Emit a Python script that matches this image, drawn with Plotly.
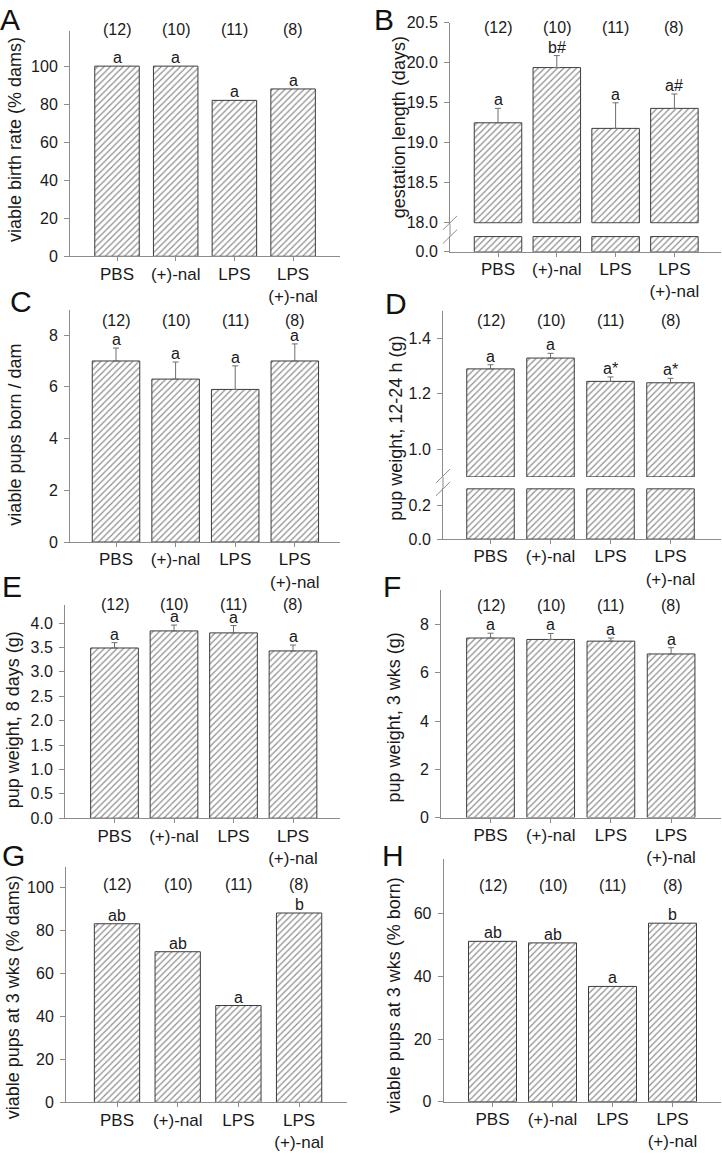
import plotly.graph_objects as go

# ---------------- data ----------------
categories = ["PBS", "(+)-nal", "LPS", "LPS<br>(+)-nal"]
n_labels = ["(12)", "(10)", "(11)", "(8)"]

a_vals = [100, 100, 82, 88]
a_sig = ["a", "a", "a", "a"]

b_vals = [19.25, 19.94, 19.18, 19.43]
b_err = [0.18, 0.15, 0.32, 0.18]
b_sig = ["a", "b#", "a", "a#"]

c_vals = [7.0, 6.3, 5.9, 7.0]
c_err = [0.5, 0.66, 0.91, 0.66]
c_sig = ["a", "a", "a", "a"]

d_vals = [1.289, 1.328, 1.244, 1.239]
d_err = [0.015, 0.017, 0.016, 0.016]
d_sig = ["a", "a", "a*", "a*"]

e_vals = [3.49, 3.84, 3.80, 3.43]
e_err = [0.11, 0.12, 0.15, 0.12]
e_sig = ["a", "a", "a", "a"]

f_vals = [7.44, 7.38, 7.31, 6.78]
f_err = [0.20, 0.25, 0.13, 0.26]
f_sig = ["a", "a", "a", "a"]

g_vals = [83, 70, 45, 88]
g_sig = ["ab", "ab", "a", "b"]

h_vals = [51.2, 50.7, 36.8, 57.0]
h_sig = ["ab", "ab", "a", "b"]

b_ticks = [18.0, 18.5, 19.0, 19.5, 20.0, 20.5]
b_low_ticks = [0.0]
d_ticks = [1.0, 1.2, 1.4]
d_low_ticks = [0.0, 0.2]
B_BREAK = 18.0
B_LOW_TOP = 0.5
D_BREAK = 0.9
D_LOW_TOP = 0.3

titles = {
    "A": "viable birth rate (% dams)",
    "B": "gestation length (days)",
    "C": "viable pups born / dam",
    "D": "pup weight, 12-24 h (g)",
    "E": "pup weight, 8 days (g)",
    "F": "pup weight, 3 wks (g)",
    "G": "viable pups at 3 wks (% dams)",
    "H": "viable pups at 3 wks (% born)",
}

# ---------------- styling ----------------
W, H = 722, 1156
FONT = "Liberation Sans, Arial, sans-serif"
AXC = "#8c8c8c"
TXT = "#1a1a1a"
TICKF = 16
CATF = 17
TITF = 18
NF = 16
SIGF = 16

fig = go.Figure()
layout = {}
annotations = []
shapes = []
counter = [0]


def px_x(p):
    return p / W


def px_y(p):
    return 1 - p / H


def lin(v1, p1, v2, p2, p):
    return v1 + (p - p1) * (v2 - v1) / (p2 - p1)


def new_axes(xl, xr, c0, sp, ytop, ybot, yrange, show_x=True, yticks=None,
             dtick=None, fmt=None):
    counter[0] += 1
    k = counter[0]
    s = "" if k == 1 else str(k)
    xrange = [(xl - c0) / sp, (xr - c0) / sp]
    xa = dict(domain=[px_x(xl), px_x(xr)], range=xrange, anchor="y" + s,
              showgrid=False, zeroline=False, fixedrange=True)
    if show_x:
        xa.update(showline=True, linecolor=AXC, linewidth=1, ticks="outside",
                  ticklen=4, tickcolor=AXC, tickvals=[0, 1, 2, 3],
                  ticktext=categories, ticklabelstandoff=-2,
                  tickfont=dict(family=FONT, size=CATF, color=TXT))
    else:
        xa.update(showline=False, showticklabels=False, ticks="")
    ya = dict(domain=[px_y(ybot), px_y(ytop)], range=yrange, anchor="x" + s,
              showgrid=False, zeroline=False, showline=True, linecolor=AXC,
              linewidth=1, ticks="outside", ticklen=5, tickcolor=AXC,
              ticklabelstandoff=3, fixedrange=True,
              tickfont=dict(family=FONT, size=TICKF, color=TXT))
    if yticks is not None:
        ya.update(tickmode="array", tickvals=yticks)
    if dtick is not None:
        ya.update(tick0=0, dtick=dtick)
    if fmt:
        ya.update(tickformat=fmt)
    layout["xaxis" + s] = xa
    layout["yaxis" + s] = ya
    return "x" + s, "y" + s


def add_bars(xr, yr, vals, width, err=None, base=None):
    kw = {}
    if err is not None:
        kw["error_y"] = dict(type="data", array=err, arrayminus=[0] * len(err),
                             symmetric=False, color="#6e6e6e", thickness=1,
                             width=3)
    yv = vals if base is None else [v - base for v in vals]
    fig.add_trace(go.Bar(
        x=[0, 1, 2, 3], y=yv, base=base, width=width, xaxis=xr, yaxis=yr,
        marker=dict(color="white", line=dict(color="#3c3c3c", width=1),
                    pattern=dict(shape="/", fgcolor="#1e1e1e",
                                 bgcolor="white", size=4.5, solidity=0.28)),
        showlegend=False, hoverinfo="skip", **kw))


def add_sig(xr, yr, vals, err, sig):
    for i, (v, t) in enumerate(zip(vals, sig)):
        top = v + (err[i] if err is not None else 0)
        annotations.append(dict(x=i, y=top, xref=xr, yref=yr, text=t,
                                showarrow=False, yanchor="bottom", yshift=-2,
                                font=dict(family=FONT, size=SIGF, color=TXT)))


def add_n(xr, py):
    for i, t in enumerate(n_labels):
        annotations.append(dict(x=i, y=px_y(py), xref=xr, yref="paper",
                                text=t, showarrow=False, yanchor="middle",
                                font=dict(family=FONT, size=NF, color=TXT)))


def add_title(letter, px, py, lx, ly):
    annotations.append(dict(x=px_x(px), y=px_y(py), xref="paper", yref="paper",
                            text=titles[letter], textangle=-90,
                            showarrow=False, xanchor="center", yanchor="middle",
                            font=dict(family=FONT, size=TITF, color=TXT)))
    annotations.append(dict(x=px_x(lx), y=px_y(ly), xref="paper", yref="paper",
                            text=letter, showarrow=False, xanchor="center",
                            yanchor="middle",
                            font=dict(family=FONT, size=30, color="#111111")))


def simple_panel(letter, vals, err, sig, xl, xr_px, c0, sp, bw, cal0, cal1,
                 ytop, ybot, dtick, fmt, n_py, title_pos, letter_pos):
    yrange = [lin(cal0[0], cal0[1], cal1[0], cal1[1], ybot),
              lin(cal0[0], cal0[1], cal1[0], cal1[1], ytop)]
    xa, ya = new_axes(xl, xr_px, c0, sp, ytop, ybot, yrange, dtick=dtick,
                      fmt=fmt)
    add_bars(xa, ya, vals, bw / sp, err)
    add_sig(xa, ya, vals, err, sig)
    add_n(xa, n_py)
    add_title(letter, title_pos[0], title_pos[1], letter_pos[0], letter_pos[1])


def broken_panel(letter, vals, err, sig, xl, xr_px, c0, sp, bw,
                 up_cal0, up_cal1, up_top, up_bot_px, brk, up_ticks,
                 low_bot_px, low_top_px, low_top_val, low_ticks,
                 n_py, title_pos, letter_pos):
    # upper segment
    yr_up = [lin(up_cal0[0], up_cal0[1], up_cal1[0], up_cal1[1], up_bot_px + 1),
             lin(up_cal0[0], up_cal0[1], up_cal1[0], up_cal1[1], up_top)]
    xu, yu = new_axes(xl, xr_px, c0, sp, up_top, up_bot_px + 1, yr_up,
                      show_x=False, yticks=up_ticks, fmt=".1f")
    add_bars(xu, yu, vals, bw / sp, err, base=brk)
    add_sig(xu, yu, vals, err, sig)
    # lower segment
    yr_low = [0, lin(0, low_bot_px, low_top_val, low_top_px, low_top_px - 1)]
    xlw, ylw = new_axes(xl, xr_px, c0, sp, low_top_px - 1, low_bot_px, yr_low,
                        yticks=low_ticks, fmt=".1f")
    add_bars(xlw, ylw, [min(v, low_top_val) for v in vals], bw / sp)
    add_n(xu, n_py)
    add_title(letter, title_pos[0], title_pos[1], letter_pos[0], letter_pos[1])
    # axis line through the gap and break marks
    shapes.append(dict(type="line", xref="paper", yref="paper",
                       x0=px_x(xl), x1=px_x(xl), y0=px_y(up_bot_px + 1),
                       y1=px_y(low_top_px - 1),
                       line=dict(color=AXC, width=1)))
    for yy in (up_bot_px, low_top_px):
        shapes.append(dict(type="line", xref="paper", yref="paper",
                           x0=px_x(xl - 7), y0=px_y(yy + 7),
                           x1=px_x(xl + 7), y1=px_y(yy - 7),
                           line=dict(color=AXC, width=1)))


simple_panel("A", a_vals, None, a_sig, 70, 340, 117, 58.7, 44.5,
             (0, 252), (100, 59), 23, 252, 20, None, 22, (15, 134), (10, 12))
broken_panel("B", b_vals, b_err, b_sig, 450, 721, 498, 58.8, 47.5,
             (18.0, 218), (20.5, 15), 15, 218, B_BREAK, b_ticks,
             247.5, 232, B_LOW_TOP, b_low_ticks,
             20, (399, 121), (384, 12))
simple_panel("C", c_vals, c_err, c_sig, 70, 340, 116, 59.6, 47.5,
             (0, 542), (8, 332), 306, 542, 2, None, 316.7, (15, 433), (21, 298))
broken_panel("D", d_vals, d_err, d_sig, 443, 721, 490.5, 60, 47.5,
             (1.0, 447.7), (1.4, 335), 308, 475, D_BREAK, d_ticks,
             539, 488, D_LOW_TOP, d_low_ticks,
             316.7, (396, 427), (396, 300))
simple_panel("E", e_vals, e_err, e_sig, 65, 340, 114.5, 59.5, 47.7,
             (0, 822.3), (4, 624.3), 606, 822.3, 0.5, ".1f", 605, (13, 723),
             (12, 587))
simple_panel("F", f_vals, f_err, f_sig, 441, 721, 490.5, 60.2, 47.7,
             (0, 821.7), (8, 625.7), 590.7, 821.7, 2, None, 606.7, (394, 720),
             (392, 587))
simple_panel("G", g_vals, None, g_sig, 66, 347, 117, 60.7, 45.3,
             (0, 1110.7), (100, 892.3), 871.7, 1110.7, 20, None, 890,
             (13, 1004), (13, 860))
simple_panel("H", h_vals, None, h_sig, 443.7, 721, 492.5, 60, 48,
             (0, 1110), (60, 919.3), 863.3, 1110, 20, None, 890.7,
             (394, 1002), (393, 860))

layout.update(dict(width=W, height=H, margin=dict(l=0, r=0, t=0, b=0),
                   paper_bgcolor="white", plot_bgcolor="white",
                   barmode="overlay", annotations=annotations, shapes=shapes,
                   font=dict(family=FONT, color=TXT)))
fig.update_layout(**layout)
fig.write_html("out.html", config={"displayModeBar": False},
               post_script="document.body.style.margin='0';"
                           "document.body.style.padding='0';")
